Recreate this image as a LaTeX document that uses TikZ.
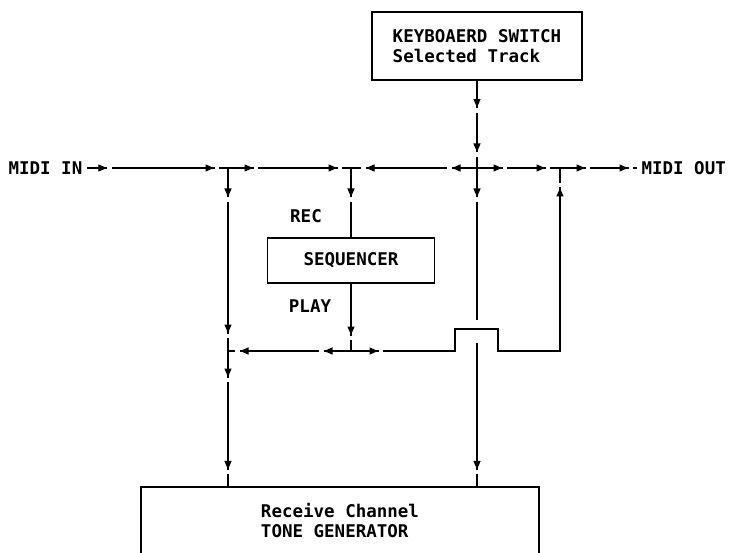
\documentclass[tikz,border=0pt]{standalone}
\usepackage{fontspec}
\setmonofont{DejaVu Sans Mono}
\usetikzlibrary{positioning,arrows.meta,decorations.markings}

\tikzset{
  ar/.style={postaction={decorate,decoration={markings,
    mark=at position #1 with {\fill[white] (0.5pt,-2pt) rectangle (5pt,2pt);
      \arrow{Triangle[length=8.5pt,width=7pt]}}}}},
  blk/.style={draw,rectangle,inner sep=0pt},
  lbl/.style={inner sep=4pt}
}

\begin{document}
\begin{tikzpicture}[x=1pt,y=-1pt,line width=1.1pt,
  every node/.style={font=\ttfamily\bfseries\fontsize{17.5}{20}\selectfont,align=left}]
  \useasboundingbox (0,0) rectangle (730,553);
  \clip (0,0) rectangle (730,553);

  % Blocks
  \node[blk,minimum width=210pt,minimum height=68pt] (kbsw) at (477,46) {KEYBOAERD SWITCH\\Selected Track};
  \node[blk,minimum width=167pt,minimum height=45pt] (seq) at (351,260.5) {SEQUENCER};
  \node[blk,minimum width=398pt,minimum height=68pt] (tonegen) at (340,521) {Receive Channel\\TONE GENERATOR\hspace*{3pt}};
  \node[lbl,anchor=west] (midiin) at (4,168) {MIDI IN};
  \node[lbl,anchor=west] (midiout) at (637,168) {MIDI OUT};
  \node (rec) at (306,216) {REC};
  \node (play) at (310,306) {PLAY};

  % Junctions
  \coordinate (j1) at (228,168);
  \coordinate (j2) at (351,168);
  \coordinate (j3) at (477,168);
  \coordinate (j4) at (560,168);
  \coordinate (j5) at (228,351);
  \coordinate (j6) at (351,351);
  \coordinate (hopA) at (477,320);
  \coordinate (hopB) at (477,343);

  % MIDI bus
  \draw[ar=20pt,ar=-14pt] (midiin) -- (j1);
  \draw[ar=25pt,ar=-14pt] (j1) -- (j2);
  \draw[ar=25pt,ar=-15pt] (j3) -- (j2);
  \draw[ar=25pt,ar=-15pt] (j3) -- (j4);
  \draw[ar=25pt,ar=-9pt] (j4) -- (midiout);
  \draw[ar=27pt,ar=-16pt] (kbsw) -- (j3);

  % Sequencer loop
  \draw[ar=29pt] (j2) -- (seq);
  \draw[ar=-16pt] (seq) -- (j6);
  \draw[ar=27pt,ar=-12pt] (j6) -- (j5);
  \draw[ar=27pt,ar=-20pt] (j6) -- (455,351) -- (455,329) -- (498,329) -- (498,351) -| (j4);

  % To tone generator
  \draw[ar=29pt,ar=-18pt] (j1) -- (j5);
  \draw[ar=26pt,ar=-17pt] (j5) -- (j5 |- tonegen.north);
  \draw[ar=29pt] (j3) -- (hopA);
  \draw[ar=-17pt] (hopB) -- (hopB |- tonegen.north);
\end{tikzpicture}
\end{document}
